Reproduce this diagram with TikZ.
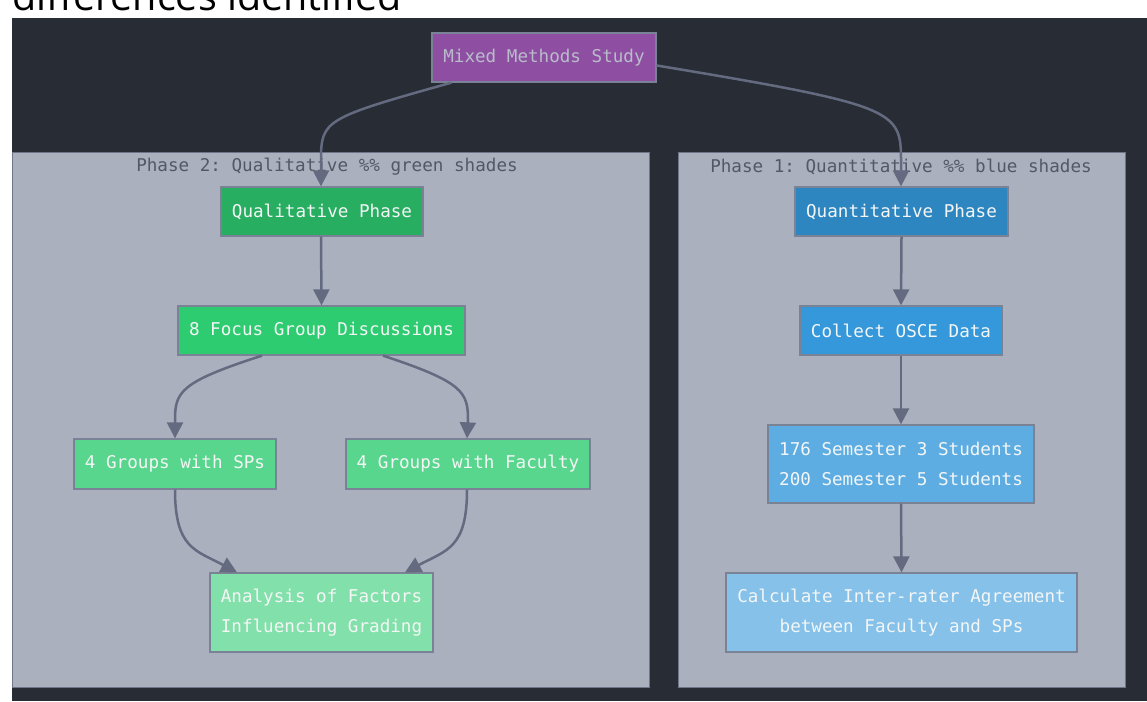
\documentclass[tikz,border=0pt]{standalone}
\usepackage{fontspec}
\setmonofont{DejaVu Sans Mono}
\newfontfamily\headfont{Open Sans}
\usetikzlibrary{arrows.meta,calc}

\definecolor{canvas}{HTML}{282C34}
\definecolor{clusterfill}{HTML}{AAB0BD}
\definecolor{clusterline}{HTML}{6E7588}
\definecolor{nodeline}{HTML}{7A8296}
\definecolor{edgecol}{HTML}{646B80}
\definecolor{labelcol}{HTML}{525966}
\definecolor{purplefill}{HTML}{8E4FA2}
\definecolor{purpletext}{HTML}{B8BCCB}
\definecolor{gA}{HTML}{27AE60}
\definecolor{gB}{HTML}{2ECC71}
\definecolor{gC}{HTML}{58D68D}
\definecolor{gD}{HTML}{82E0AA}
\definecolor{bA}{HTML}{2E86C1}
\definecolor{bB}{HTML}{3498DB}
\definecolor{bC}{HTML}{5DADE2}
\definecolor{bD}{HTML}{85C1E9}
\definecolor{boxtext}{HTML}{F4F6F6}

\tikzset{
  box/.style={draw=nodeline, line width=1.3pt, inner sep=0pt, align=center,
    text=boxtext, font=\ttfamily\fontsize{17.6}{30}\selectfont},
  cluster/.style={draw=clusterline, line width=1pt, fill=clusterfill},
  clusterlabel/.style={text=labelcol, font=\ttfamily\fontsize{17.6}{30}\selectfont},
  flow/.style={draw=edgecol, line width=2.5pt,
    -{Triangle[length=16pt,width=16pt]}},
}

\begin{document}
\begin{tikzpicture}[x=1pt,y=-1pt]
\useasboundingbox (0,0) rectangle (1147,701);
\fill[white] (0,0) rectangle (1147,701);

% heading line above the canvas (only its lower part shows)
\node[anchor=base west, inner sep=0pt, text=black,
      font=\headfont\fontsize{39.5}{42}\selectfont] (head) at (12,11) {differences identified};

% canvas
\fill[canvas] (12,18) rectangle (1147,701);

% phase containers
\draw[cluster] (12,152) rectangle (649,687);
\draw[cluster] (678,152) rectangle (1125,687);
\node[clusterlabel] (lblq) at (327,167) {Phase 2: Qualitative \%\% green shades};
\node[clusterlabel] (lbln) at (901,167) {Phase 1: Quantitative \%\% blue shades};

% nodes
\node[box, fill=purplefill, text=purpletext, minimum width=224pt, minimum height=49pt] (mix) at (544,57.5) {Mixed Methods Study};

\node[box, fill=gA, minimum width=202pt, minimum height=49pt] (qual) at (322,211.5) {Qualitative Phase};
\node[box, fill=gB, minimum width=287pt, minimum height=49pt] (focus) at (321.5,330.5) {8 Focus Group Discussions};
\node[box, fill=gC, minimum width=202pt, minimum height=50pt] (sps) at (175,464) {4 Groups with SPs};
\node[box, fill=gC, minimum width=244pt, minimum height=50pt] (fac) at (468,464) {4 Groups with Faculty};
\node[box, fill=gD, minimum width=223pt, minimum height=79pt] (ana) at (321.5,612.5) {Analysis of Factors\\Influencing Grading};

\node[box, fill=bA, minimum width=213pt, minimum height=49pt] (quant) at (901.5,211.5) {Quantitative Phase};
\node[box, fill=bB, minimum width=202pt, minimum height=49pt] (osce) at (901,330.5) {Collect OSCE Data};
\node[box, fill=bC, minimum width=266pt, minimum height=78pt] (stud) at (901,464) {176 Semester 3 Students\\200 Semester 5 Students};
\node[box, fill=bD, minimum width=351pt, minimum height=79pt] (calc) at (901.5,612.5) {Calculate Inter-rater Agreement\\between Faculty and SPs};

% connectors
\draw[flow] ([xshift=20pt]mix.south west) .. controls (325,118) and (321,120) .. (321,160) -- ([xshift=-1pt]qual.north);
\draw[flow] ([yshift=-8pt]mix.east) .. controls (895,105) and (901,110) .. (901,160) -- ([xshift=-0.5pt]quant.north);

\draw[flow] ([xshift=-1pt]qual.south) -- (focus.north);
\draw[flow] ([xshift=-59.5pt]focus.south) .. controls (180,382) and (175,392) .. (175,420) -- (sps.north);
\draw[flow] ([xshift=61.5pt]focus.south) .. controls (463,382) and (468,392) .. (468,420) -- ([xshift=-1pt]fac.north);

\draw[flow] (sps.south) .. controls (175,548) and (195,550) .. ([xshift=-84.5pt]ana.north);
\draw[flow] ([xshift=-1pt]fac.south) .. controls (467,548) and (447,550) .. ([xshift=83.5pt]ana.north);

\draw[flow] (quant.south) -- (osce.north);
\draw[flow] (osce.south) -- (stud.north);
\draw[flow] (stud.south) -- (calc.north);
\end{tikzpicture}
\end{document}
